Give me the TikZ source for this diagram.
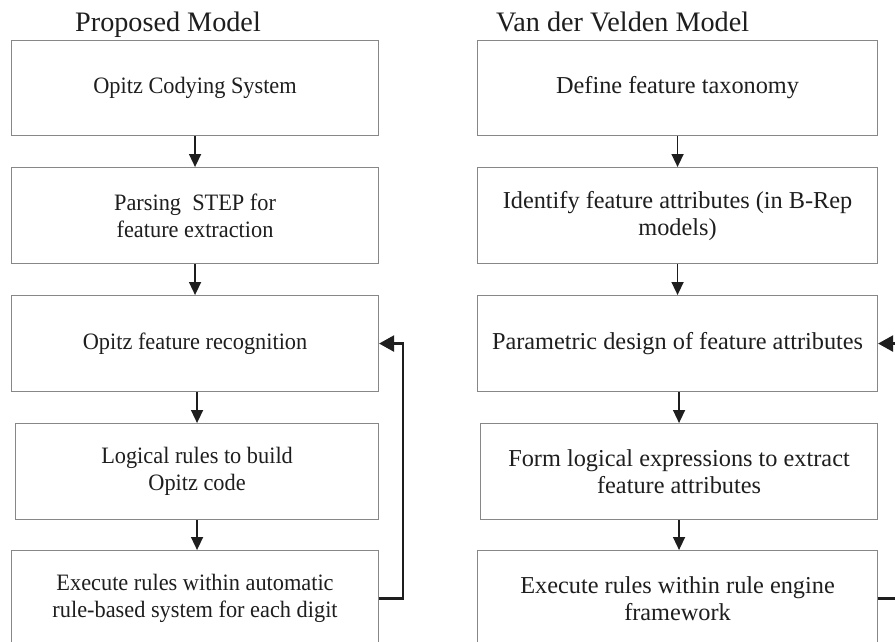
\documentclass[tikz,border=0pt]{standalone}
\usepackage{fontspec}
\setmainfont{Liberation Serif}
\newfontfamily\leftfont[FakeStretch=0.95]{Liberation Serif}
\usetikzlibrary{arrows.meta}
\definecolor{boxgray}{RGB}{135,135,135}
\definecolor{ink}{RGB}{30,30,30}
\begin{document}
\begin{tikzpicture}[x=1pt,y=-1pt,
  box/.style={draw=boxgray,line width=1.1pt,fill=white,anchor=north west,align=center,
    text=ink,inner sep=0pt},
  lbox/.style={box,font=\leftfont\fontsize{23.5}{27}\selectfont},
  rbox/.style={box,font=\fontsize{24.3}{27}\selectfont},
  title/.style={anchor=base west,text=ink,font=\fontsize{28.2}{30}\selectfont,inner sep=0pt},
  flow/.style={draw=ink,line width=1.5pt,-{Triangle[length=13pt,width=12pt]}},
  back/.style={draw=ink,line width=2.4pt,-{Triangle[length=15pt,width=16pt]}}]
\useasboundingbox (0,0) rectangle (895,641);
\clip (0,0) rectangle (895,641);
\fill[white] (0,0) rectangle (895,641);

% titles
\node[title] (tl) at (75,31) {Proposed Model};
\node[title] (tr) at (496,31) {Van der Velden Model};

% left column
\node[lbox,minimum width=367pt,minimum height=95pt] (l1) at (11,40) {Opitz Codying System};
\node[lbox,minimum width=367pt,minimum height=96pt] (l2) at (11,167) {Parsing\ \ STEP for\\feature extraction};
\node[lbox,minimum width=367pt,minimum height=96pt] (l3) at (11,295) {Opitz feature recognition};
\node[lbox,minimum width=363pt,minimum height=96pt] (l4) at (15,423) {Logical rules to build\\Opitz code};
\node[lbox,minimum width=367pt,minimum height=96pt] (l5) at (11,550) {Execute rules within automatic\\rule-based system for each digit};

% right column
\node[rbox,minimum width=400pt,minimum height=95pt] (r1) at (477,40) {Define feature taxonomy};
\node[rbox,minimum width=400pt,minimum height=96pt] (r2) at (477,167) {Identify feature attributes (in B-Rep\\models)};
\node[rbox,minimum width=400pt,minimum height=96pt] (r3) at (477,295) {Parametric design of feature attributes};
\node[rbox,minimum width=397pt,minimum height=96pt] (r4) at (480,423) {Form logical expressions to extract\\feature attributes};
\node[rbox,minimum width=400pt,minimum height=96pt] (r5) at (477,550) {Execute rules within rule engine\\framework};

% left arrows
\draw[flow] (l1.south) -- (l2.north);
\draw[flow] (l2.south) -- (l3.north);
\draw[flow] (l3.south -| l4.north) -- (l4.north);
\draw[flow] (l4.south) -- (l5.north -| l4.south);
\draw[back] (l5.east) -- ++(24,0) |- (l3.east);

% right arrows
\draw[flow] (r1.south) -- (r2.north);
\draw[flow] (r2.south) -- (r3.north);
\draw[flow] (r3.south -| r4.north) -- (r4.north);
\draw[flow] (r4.south) -- (r5.north -| r4.south);
\draw[back] (r5.east) -- ++(40,0) |- (r3.east);
\end{tikzpicture}
\end{document}
